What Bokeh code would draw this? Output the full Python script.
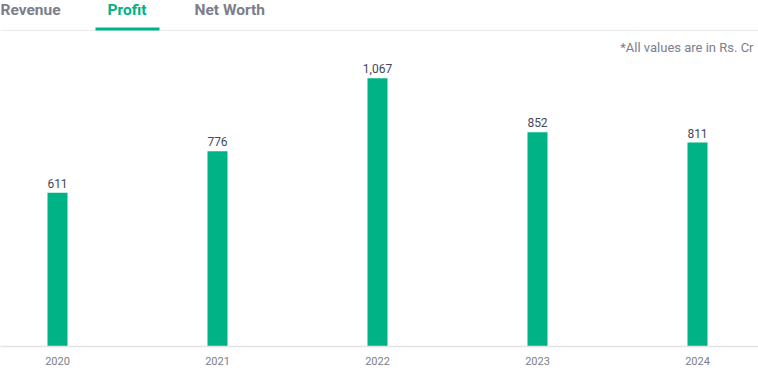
from bokeh.plotting import figure
from bokeh.models import Range1d, FixedTicker, Label, Span, BoxAnnotation, ColumnDataSource
from bokeh.core.properties import value
from bokeh.embed import file_html
from bokeh.resources import INLINE

years = [2020, 2021, 2022, 2023, 2024]
profit = [611, 776, 1067, 852, 811]
labels = ["611", "776", "1,067", "852", "811"]
tabs = ["Revenue", "Profit", "Net Worth"]
note = "*All values are in Rs. Cr"

W, H = 758, 380
FRAME_H = 346
PX_PER_YEAR = 160.0
X0 = 2020 - 57 / PX_PER_YEAR
YMAX = FRAME_H / 0.2515

GREEN = "#00b386"
GRAY = "#7c7e8c"
DARK = "#44475b"
FONT = "Roboto"

def xd(px):
    return X0 + px / PX_PER_YEAR

def yd(py):
    return (FRAME_H - py) / FRAME_H * YMAX

p = figure(width=W, height=H, output_backend="svg", toolbar_location=None,
           x_range=Range1d(X0, X0 + W / PX_PER_YEAR), y_range=Range1d(0, YMAX),
           y_axis_location=None, min_border_left=0, min_border_right=0,
           min_border_top=0, min_border_bottom=H - FRAME_H)
p.outline_line_color = None
p.grid.visible = False
p.background_fill_color = "white"
p.border_fill_color = "white"

src = ColumnDataSource(dict(x=years, top=profit, lab=labels))
p.vbar(x="x", top="top", width=20 / PX_PER_YEAR, source=src, fill_color=GREEN, line_color=None)
p.text(x="x", y="top", text="lab", source=src, y_offset=-5, text_align="center",
       text_baseline="bottom", text_font=value(FONT), text_font_size="12px", text_color=DARK)

ax = p.xaxis[0]
ax.ticker = FixedTicker(ticks=years)
ax.major_tick_line_color = None
ax.minor_tick_line_color = None
ax.axis_line_color = "#e3e3e5"
ax.axis_line_width = 1.5
ax.major_label_standoff = 4
ax.major_label_text_font = FONT
ax.major_label_text_font_size = "11px"
ax.major_label_text_color = GRAY

# header tabs
tab_x = [0, 107, 194]
tab_col = [GRAY, GREEN, GRAY]
for t, tx, c in zip(tabs, tab_x, tab_col):
    p.add_layout(Label(x=xd(tx), y=yd(0), text=t, text_align="left", text_baseline="top",
                       text_font=FONT, text_font_size="15.5px", text_font_style="bold", text_color=c))

p.add_layout(Span(location=yd(30), dimension="width", line_color="#e9e9eb", line_width=1))
p.add_layout(BoxAnnotation(left=xd(95), right=xd(159), top=yd(27), bottom=yd(30),
                           fill_color=GREEN, fill_alpha=1, line_color=None))
p.add_layout(Label(x=xd(753), y=yd(47), text=note, text_align="right", text_baseline="middle",
                   text_font=FONT, text_font_size="13px", text_color=GRAY))

open("out.html", "w").write(file_html(p, INLINE))
